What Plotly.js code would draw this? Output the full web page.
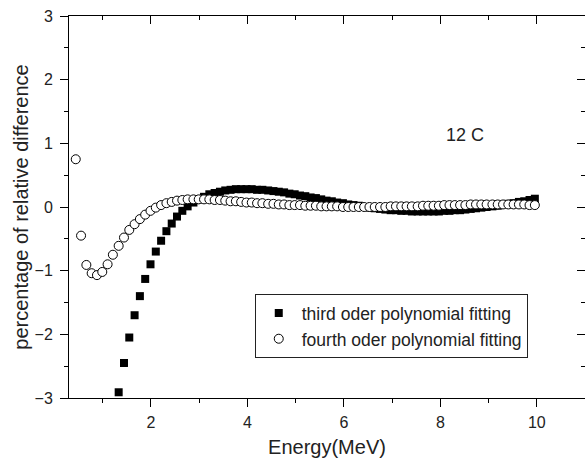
<!DOCTYPE html>
<html>
<head>
<meta charset="utf-8">
<script src="https://cdn.plot.ly/plotly-3.0.1.min.js"></script>
<style>html,body{margin:0;padding:0;background:#fff;}#chart{width:585px;height:464px;}</style>
</head>
<body>
<div id="chart"></div>
<script>
// Energy grid (MeV)
var energy = [0.44,0.55,0.66,0.77,0.88,0.99,1.10,1.21,1.33,1.44,1.55,1.66,1.77,1.88,1.99,2.10,2.21,2.32,2.43,2.54,2.65,2.76,2.88,2.99,3.10,3.21,3.32,3.43,3.54,3.65,3.76,3.87,3.98,4.09,4.20,4.31,4.43,4.54,4.65,4.76,4.87,4.98,5.09,5.20,5.31,5.42,5.53,5.64,5.75,5.86,5.98,6.09,6.20,6.31,6.42,6.53,6.64,6.75,6.86,6.97,7.08,7.19,7.30,7.41,7.53,7.64,7.75,7.86,7.97,8.08,8.19,8.30,8.41,8.52,8.63,8.74,8.85,8.96,9.08,9.19,9.30,9.41,9.52,9.63,9.74,9.85,9.96];

// Energies of the visible third order points
var energyThird = [1.33,1.44,1.55,1.66,1.77,1.88,1.99,2.10,2.21,2.32,2.43,2.54,2.65,2.76,2.88,2.99,3.10,3.21,3.32,3.43,3.54,3.65,3.76,3.87,3.98,4.09,4.20,4.31,4.43,4.54,4.65,4.76,4.87,4.98,5.09,5.20,5.31,5.42,5.53,5.64,5.75,5.86,5.98,6.09,6.20,6.31,6.42,6.53,6.64,6.75,6.86,6.97,7.08,7.19,7.30,7.41,7.53,7.64,7.75,7.86,7.97,8.08,8.19,8.30,8.41,8.52,8.63,8.74,8.85,8.96,9.08,9.19,9.30,9.41,9.52,9.63,9.74,9.85,9.96];

var thirdOrder = [-2.91,-2.45,-2.05,-1.70,-1.40,-1.13,-0.90,-0.70,-0.53,-0.38,-0.26,-0.15,-0.06,0.01,0.07,0.12,0.16,0.20,0.22,0.24,0.26,0.27,0.28,0.28,0.28,0.28,0.27,0.27,0.26,0.25,0.24,0.23,0.21,0.20,0.18,0.17,0.15,0.14,0.12,0.10,0.09,0.07,0.06,0.04,0.03,0.02,0.00,-0.01,-0.02,-0.03,-0.04,-0.05,-0.05,-0.06,-0.06,-0.07,-0.07,-0.07,-0.07,-0.07,-0.07,-0.06,-0.06,-0.05,-0.05,-0.04,-0.03,-0.02,-0.01,0.00,0.01,0.02,0.04,0.05,0.06,0.08,0.09,0.11,0.13];

var fourthOrder = [0.75,-0.45,-0.91,-1.04,-1.07,-1.02,-0.90,-0.75,-0.61,-0.48,-0.36,-0.27,-0.19,-0.12,-0.06,-0.01,0.03,0.06,0.08,0.10,0.11,0.12,0.12,0.12,0.12,0.12,0.11,0.11,0.10,0.09,0.09,0.08,0.07,0.07,0.06,0.06,0.05,0.05,0.04,0.04,0.03,0.03,0.03,0.02,0.02,0.02,0.01,0.01,0.01,0.01,0.00,0.00,0.00,0.00,0.00,0.00,0.00,0.00,0.00,0.01,0.01,0.01,0.01,0.01,0.01,0.02,0.02,0.02,0.02,0.03,0.03,0.03,0.03,0.03,0.04,0.04,0.04,0.04,0.04,0.04,0.04,0.04,0.04,0.04,0.04,0.03,0.03];

var seriesNames = ["third oder polynomial fitting", "fourth oder polynomial fitting"];
var labelText = "12 C";
var xTitle = "Energy(MeV)";
var yTitle = "percentage of relative difference";

var FONT = "Liberation Sans, Arial, sans-serif";

var traces = [
  {
    x: energyThird, y: thirdOrder, type: "scatter", mode: "markers",
    name: seriesNames[0], cliponaxis: true,
    marker: {symbol: "square", size: 8, color: "#000", line: {width: 0}}
  },
  {
    x: energy, y: fourthOrder, type: "scatter", mode: "markers",
    name: seriesNames[1], cliponaxis: true,
    marker: {symbol: "circle", size: 9, color: "#fff", line: {width: 1, color: "#000"}}
  },
  {
    x: [], y: [], xaxis: "x2", yaxis: "y2", type: "scatter", mode: "markers",
    showlegend: false, hoverinfo: "skip"
  }
];

var axisCommon = {
  showgrid: false, zeroline: false, showline: true,
  linecolor: "#000", linewidth: 1, tickcolor: "#000", tickwidth: 1,
  tickfont: {family: FONT, size: 16, color: "#222"}
};

var layout = {
  width: 585, height: 464,
  margin: {l: 69, r: 0, t: 16, b: 66, pad: 0},
  paper_bgcolor: "#fff", plot_bgcolor: "#fff",
  font: {family: FONT, color: "#222"},
  showlegend: true,
  legend: {
    x: 0.36, y: 0.272, xanchor: "left", yanchor: "top",
    bgcolor: "#fff", bordercolor: "#222", borderwidth: 1,
    font: {family: FONT, size: 17.5, color: "#222"},
    itemwidth: 36, tracegroupgap: 0
  },
  xaxis: Object.assign({}, axisCommon, {
    range: [0.3, 11], tick0: 0, dtick: 2,
    ticks: "outside", ticklen: 8, ticklabelstandoff: 2,
    minor: {ticks: "outside", ticklen: 4, dtick: 1, tick0: 0, tickcolor: "#000", tickwidth: 1},
    title: {text: xTitle, font: {family: FONT, size: 20, color: "#222"}, standoff: 9}
  }),
  yaxis: Object.assign({}, axisCommon, {
    range: [-3, 3], tick0: 0, dtick: 1,
    ticks: "outside", ticklen: 8, ticklabelstandoff: 4,
    minor: {ticks: "outside", ticklen: 4, dtick: 0.5, tick0: 0, tickcolor: "#000", tickwidth: 1},
    title: {text: yTitle, font: {family: FONT, size: 20, color: "#222"}, standoff: 0}
  }),
  xaxis2: Object.assign({}, axisCommon, {
    overlaying: "x", side: "top", anchor: "y", matches: "x",
    range: [0.3, 11], tick0: 0, dtick: 2, showticklabels: false,
    ticks: "inside", ticklen: 8,
    minor: {ticks: "inside", ticklen: 4, dtick: 1, tick0: 0, tickcolor: "#000", tickwidth: 1}
  }),
  yaxis2: Object.assign({}, axisCommon, {
    overlaying: "y", side: "right", anchor: "x", matches: "y",
    range: [-3, 3], tick0: 0, dtick: 1, showticklabels: false, showline: false,
    ticks: "inside", ticklen: 8,
    minor: {ticks: "inside", ticklen: 4, dtick: 0.5, tick0: 0, tickcolor: "#000", tickwidth: 1}
  }),
  annotations: [{
    x: 8.52, y: 1.13, xref: "x", yref: "y", text: labelText, showarrow: false,
    font: {family: FONT, size: 18, color: "#222"}
  }]
};

Plotly.newPlot("chart", traces, layout, {staticPlot: true, displayModeBar: false});
</script>
</body>
</html>
